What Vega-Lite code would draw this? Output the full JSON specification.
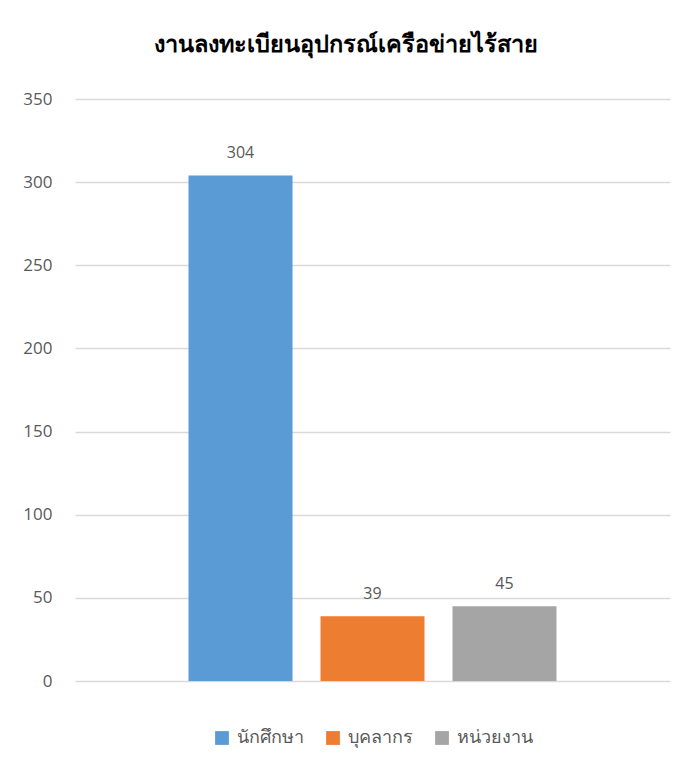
{
  "$schema": "https://vega.github.io/schema/vega-lite/v6.json",
  "width": 595,
  "height": 582,
  "autosize": "none",
  "padding": {"left": 75, "top": 99, "right": 27, "bottom": 95},
  "background": "white",
  "title": {
    "text": "งานลงทะเบียนอุปกรณ์เครือข่ายไร้สาย",
    "fontSize": 23.5,
    "fontWeight": "bold",
    "font": "Noto Sans",
    "color": "#000000",
    "anchor": "middle",
    "frame": "bounds",
    "offset": 34
  },
  "data": {
    "values": [
      {"group": "นักศึกษา", "value": 304},
      {"group": "บุคลากร", "value": 39},
      {"group": "หน่วยงาน", "value": 45}
    ]
  },
  "encoding": {
    "x": {
      "field": "group",
      "type": "nominal",
      "sort": null,
      "axis": null,
      "scale": {"paddingInner": 0.212, "paddingOuter": 0.86}
    },
    "y": {
      "field": "value",
      "type": "quantitative",
      "scale": {"domain": [0, 350]},
      "axis": {
        "values": [0, 50, 100, 150, 200, 250, 300, 350],
        "title": null,
        "domain": false,
        "ticks": false,
        "labelPadding": 23,
        "labelFontSize": 17,
        "labelFont": "Open Sans",
        "labelColor": "#595959",
        "gridColor": "#d9d9d9",
        "gridWidth": 1.3
      }
    }
  },
  "layer": [
    {
      "mark": {"type": "bar"},
      "encoding": {
        "color": {
          "field": "group",
          "type": "nominal",
          "sort": null,
          "scale": {"range": ["#5b9bd5", "#ed7d31", "#a5a5a5"]},
          "legend": {
            "title": null,
            "orient": "bottom",
            "direction": "horizontal",
            "offset": 48,
            "symbolType": "square",
            "symbolSize": 190,
            "symbolStrokeWidth": 0,
            "labelFontSize": 18,
            "labelFont": "Noto Sans",
            "labelColor": "#595959",
            "columnPadding": 20,
            "labelOffset": 6,
            "symbolOpacity": 1
          }
        }
      }
    },
    {
      "mark": {
        "type": "text",
        "baseline": "bottom",
        "dy": -14,
        "fontSize": 16,
        "font": "Open Sans",
        "color": "#595959"
      },
      "encoding": {"text": {"field": "value", "type": "quantitative"}}
    }
  ],
  "config": {
    "view": {"stroke": null},
    "legend": {"layout": {"bottom": {"anchor": "middle"}}}
  }
}
